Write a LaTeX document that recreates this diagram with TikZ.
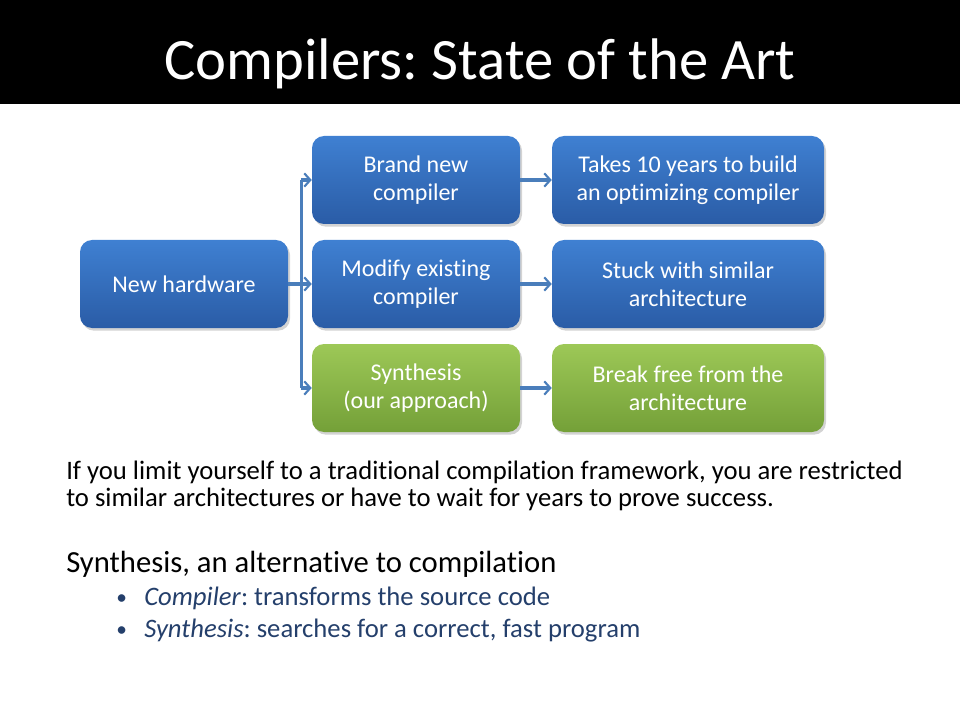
\documentclass[tikz,border=0pt]{standalone}
\usepackage{fontspec}
\setmainfont{Carlito}[Ligatures=NoCommon]
\frenchspacing
\usetikzlibrary{arrows.meta,shadows,calc}
\definecolor{btop}{HTML}{3F80D2}
\definecolor{bbot}{HTML}{2A5CA6}
\definecolor{gtop}{HTML}{9DC857}
\definecolor{gbot}{HTML}{74A038}
\definecolor{arrc}{HTML}{4A7EBB}
\definecolor{bultext}{HTML}{243F6B}
\tikzset{
  boxbase/.style={rounded corners=9pt, minimum height=66pt, align=center, text=white,
    font=\fontsize{18}{21}\selectfont, inner sep=2pt,
    drop shadow={opacity=0.35, shadow xshift=1.5pt, shadow yshift=-2pt}},
  bluebox/.style={boxbase, top color=btop, bottom color=bbot, draw=none},
  greenbox/.style={boxbase, top color=gtop, bottom color=gbot, draw=none},
  arr/.style={draw=arrc, line width=2.3pt, -{Straight Barb[length=4.5pt,width=10pt,line width=1.6pt]}},
  txt/.style={anchor=base west, inner sep=0pt},
}
\begin{document}
\begin{tikzpicture}[x=0.75pt,y=-0.75pt]
\useasboundingbox (0,0) rectangle (960,720);
\fill[black] (0,0) rectangle (960,104);
\node[anchor=base, text=white, inner sep=0pt, font=\fontsize{44}{50}\selectfont] (title) at (480,80) {Compilers: State of the Art};

\node[bluebox, minimum width=156pt] (nh) at (184,284) {New hardware};
\node[bluebox, minimum width=156pt] (b1) at (416,180) {Brand new\\compiler};
\node[bluebox, minimum width=156pt] (b2) at (416,284) {Modify existing\\compiler};
\node[greenbox, minimum width=156pt] (b3) at (416,388) {Synthesis\\(our approach)};
\node[bluebox, minimum width=204pt] (c1) at (688,180) {Takes 10 years to build\\an optimizing compiler};
\node[bluebox, minimum width=204pt] (c2) at (688,284) {Stuck with similar\\architecture};
\node[greenbox, minimum width=204pt] (c3) at (688,388) {Break free from the\\architecture};

\coordinate (sp) at ($(nh.east)+(13,0)$);
\draw[draw=arrc, line width=2.3pt] (sp |- b1.west) -- (sp |- b3.west);
\draw[arr] (nh.east) -- (b2.west);
\draw[arr] (sp |- b1.west) -- (b1.west);
\draw[arr] (sp |- b3.west) -- (b3.west);
\draw[arr] (b1.east) -- (c1.west);
\draw[arr] (b2.east) -- (c2.west);
\draw[arr] (b3.east) -- (c3.west);

\node[txt, font=\fontsize{20}{24}\selectfont] (p1) at (66,479) {If you limit yourself to a traditional compilation framework, you are restricted};
\node[txt, font=\fontsize{20}{24}\selectfont] (p2) at (66,506) {to similar architectures or have to wait for years to prove success.};
\node[txt, font=\fontsize{23}{28}\selectfont] (h) at (66,572) {Synthesis, an alternative to compilation};
\node[txt, text=bultext, font=\fontsize{16}{24}\selectfont] (bu1) at (116,604) {•};
\node[txt, text=bultext, font=\fontsize{20}{24}\selectfont] (l1) at (144,605) {\textit{Compiler}: transforms the source code};
\node[txt, text=bultext, font=\fontsize{16}{24}\selectfont] (bu2) at (116,636) {•};
\node[txt, text=bultext, font=\fontsize{20}{24}\selectfont] (l2) at (144,637) {\textit{Synthesis}: searches for a correct, fast program};
\end{tikzpicture}
\end{document}
